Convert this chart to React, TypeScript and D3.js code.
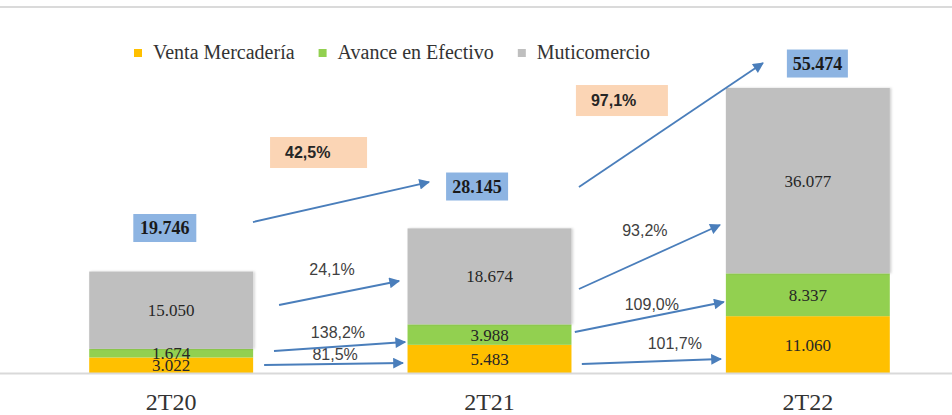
import React, { useEffect, useRef } from "react";
import * as d3 from "d3";

// ---- data ----
const categories = ["2T20", "2T21", "2T22"];
const seriesNames = ["Venta Mercadería", "Avance en Efectivo", "Muticomercio"];
const ventaMercaderia = [3022, 5483, 11060];
const avanceEfectivo = [1674, 3988, 8337];
const muticomercio = [15050, 18674, 36077];
const totals = [19746, 28145, 55474];
const totalGrowthLabels = ["42,5%", "97,1%"];
// growth labels per segment: [from period][series]
const segmentGrowthLabels = [
  ["81,5%", "138,2%", "24,1%"],
  ["101,7%", "109,0%", "93,2%"],
];
const seriesColors = ["#FFC000", "#92D050", "#BFBFBF"];

// annotation anchors in data space: [category position, value]
const totalBoxAnchors: [number, number][] = [
  [-0.02, 28221],
  [0.961, 36298],
  [2.03, 60237],
];
const totalGrowthBoxAnchors: [number, number][] = [
  [0.463, 42916],
  [1.416, 53036],
];
const totalArrows: [[number, number], [number, number]][] = [
  [[0.257, 29389], [0.81, 37174]],
  [[1.281, 36201], [1.859, 60335]],
];
// segment arrows: [period][series] (yellow, green, gray)
const segmentArrows: [[number, number], [number, number]][][] = [
  [
    [[0.292, 1557], [0.728, 1946]],
    [[0.323, 4282], [0.735, 6033]],
    [[0.339, 13235], [0.716, 17906]],
  ],
  [
    [[1.29, 1752], [1.727, 2725]],
    [[1.268, 7980], [1.736, 13819]],
    [[1.281, 16349], [1.724, 28805]],
  ],
];
const segmentLabelAnchors: [number, number][][] = [
  [[0.515, 3698], [0.524, 7980], [0.505, 20241]],
  [[1.582, 5839], [1.51, 13429], [1.488, 27832]],
];

const W = 952;
const H = 415;

export default function App() {
  const ref = useRef<SVGSVGElement>(null);

  useEffect(() => {
    const svg = d3.select(ref.current);
    svg.selectAll("*").remove();

    const loc = d3.formatLocale({ decimal: ",", thousands: ".", grouping: [3], currency: ["", ""] });
    const fmt = loc.format(",d");

    const x = d3.scaleBand<string>().domain(categories).range([12, 967]).paddingInner(0.485).paddingOuter(0.2425);
    const y = d3.scaleLinear().domain([0, d3.max(totals) as number]).range([373, 88]);
    const bw = x.bandwidth();
    const xPos = (f: number) => (x(categories[0]) as number) + bw / 2 + f * x.step();

    const defs = svg.append("defs");
    defs
      .append("marker")
      .attr("id", "arrow")
      .attr("viewBox", "0 0 10 10")
      .attr("refX", 9)
      .attr("refY", 5)
      .attr("markerWidth", 7)
      .attr("markerHeight", 6)
      .attr("markerUnits", "strokeWidth")
      .attr("orient", "auto")
      .append("path")
      .attr("d", "M0,0 L10,5 L0,10 Z")
      .attr("fill", "#4A7EBB");
    const filt = defs.append("filter").attr("id", "shadow").attr("x", "-5%").attr("y", "-5%").attr("width", "115%").attr("height", "115%");
    filt.append("feDropShadow").attr("dx", 1.5).attr("dy", 0).attr("stdDeviation", 1).attr("flood-color", "#000").attr("flood-opacity", 0.18);

    svg.append("rect").attr("width", W).attr("height", H).attr("fill", "#fff");

    // top border line
    svg.append("line").attr("x1", 0).attr("x2", W).attr("y1", 7).attr("y2", 7).attr("stroke", "#DADADA").attr("stroke-width", 2);

    // stacked bars
    const rows = categories.map((c, i) => ({ cat: c, v0: ventaMercaderia[i], v1: avanceEfectivo[i], v2: muticomercio[i] }));
    const stack = d3.stack<any>().keys(["v0", "v1", "v2"]);
    const layers = stack(rows);

    const g = svg.append("g");
    layers.forEach((layer, li) => {
      g.selectAll(null)
        .data(layer)
        .enter()
        .append("rect")
        .attr("x", (d) => x(d.data.cat) as number)
        .attr("width", bw)
        .attr("y", (d) => y(d[1]))
        .attr("height", (d) => y(d[0]) - y(d[1]))
        .attr("fill", seriesColors[li])
        .attr("filter", li === 2 ? "url(#shadow)" : null);
    });

    // baseline
    svg.append("line").attr("x1", 0).attr("x2", W).attr("y1", y(0) + 0.5).attr("y2", y(0) + 0.5).attr("stroke", "#D9D9D9").attr("stroke-width", 2);

    // segment labels
    layers.forEach((layer) => {
      g.selectAll(null)
        .data(layer)
        .enter()
        .append("text")
        .attr("x", (d) => (x(d.data.cat) as number) + bw / 2)
        .attr("y", (d) => (y(d[0]) + y(d[1])) / 2)
        .attr("dy", "0.35em")
        .attr("text-anchor", "middle")
        .attr("font-family", "'Liberation Serif', 'Times New Roman', serif")
        .attr("font-size", 17)
        .attr("fill", "#262626")
        .text((d) => fmt(d[1] - d[0]));
    });

    // category labels
    svg
      .selectAll(null)
      .data(categories)
      .enter()
      .append("text")
      .attr("x", (d) => (x(d) as number) + bw / 2)
      .attr("y", 410)
      .attr("text-anchor", "middle")
      .attr("font-family", "'Liberation Serif', 'Times New Roman', serif")
      .attr("font-size", 24)
      .attr("fill", "#333")
      .text((d) => d);

    const arrow = (a: [number, number], b: [number, number]) =>
      svg
        .append("line")
        .attr("x1", xPos(a[0]))
        .attr("y1", y(a[1]))
        .attr("x2", xPos(b[0]))
        .attr("y2", y(b[1]))
        .attr("stroke", "#4A7EBB")
        .attr("stroke-width", 1.8)
        .attr("marker-end", "url(#arrow)");

    // segment arrows + labels
    segmentArrows.forEach((per, pi) =>
      per.forEach((ar, si) => {
        arrow(ar[0], ar[1]);
        const la = segmentLabelAnchors[pi][si];
        svg
          .append("text")
          .attr("x", xPos(la[0]))
          .attr("y", y(la[1]))
          .attr("dy", "0.35em")
          .attr("text-anchor", "middle")
          .attr("font-family", "'Liberation Sans', Arial, sans-serif")
          .attr("font-size", 16)
          .attr("fill", "#404040")
          .text(segmentGrowthLabels[pi][si]);
      })
    );

    // total arrows
    totalArrows.forEach((ar) => arrow(ar[0], ar[1]));

    // total boxes
    const boxW = [63, 62, 61];
    totals.forEach((t, i) => {
      const [f, v] = totalBoxAnchors[i];
      const cx = xPos(f);
      const cy = y(v);
      svg.append("rect").attr("x", cx - boxW[i] / 2).attr("y", cy - 14).attr("width", boxW[i]).attr("height", 28).attr("fill", "#8DB4E2");
      svg
        .append("text")
        .attr("x", cx)
        .attr("y", cy)
        .attr("dy", "0.35em")
        .attr("text-anchor", "middle")
        .attr("font-family", "'Liberation Serif', 'Times New Roman', serif")
        .attr("font-weight", "bold")
        .attr("font-size", 18)
        .attr("fill", "#1a1a1a")
        .text(fmt(t));
    });

    // total growth boxes
    const gW = [97, 92];
    totalGrowthLabels.forEach((lab, i) => {
      const [f, v] = totalGrowthBoxAnchors[i];
      const cx = xPos(f);
      const cy = y(v);
      svg.append("rect").attr("x", cx - gW[i] / 2).attr("y", cy - 15.5).attr("width", gW[i]).attr("height", 31).attr("fill", "#FBD5B5");
      svg
        .append("text")
        .attr("x", cx - gW[i] / 2 + 15)
        .attr("y", cy)
        .attr("dy", "0.35em")
        .attr("font-family", "'Liberation Sans', Arial, sans-serif")
        .attr("font-weight", "bold")
        .attr("font-size", 16)
        .attr("fill", "#262626")
        .text(lab);
    });

    // legend
    const lg = svg.append("g");
    let lx = 134;
    seriesNames.forEach((name, i) => {
      lg.append("rect").attr("x", lx).attr("y", 49).attr("width", 8).attr("height", 8).attr("fill", seriesColors[i]);
      const t = lg
        .append("text")
        .attr("x", lx + 19)
        .attr("y", 59)
        .attr("font-family", "'Liberation Serif', 'Times New Roman', serif")
        .attr("font-size", 20)
        .attr("fill", "#333")
        .text(name);
      const len = (t.node() as SVGTextElement).getComputedTextLength();
      lx = lx + 19 + len + 24;
    });
  }, []);

  return (
    <svg
      ref={ref}
      width={W}
      height={H}
      style={{ position: "absolute", left: 0, top: 0, display: "block" }}
    />
  );
}
